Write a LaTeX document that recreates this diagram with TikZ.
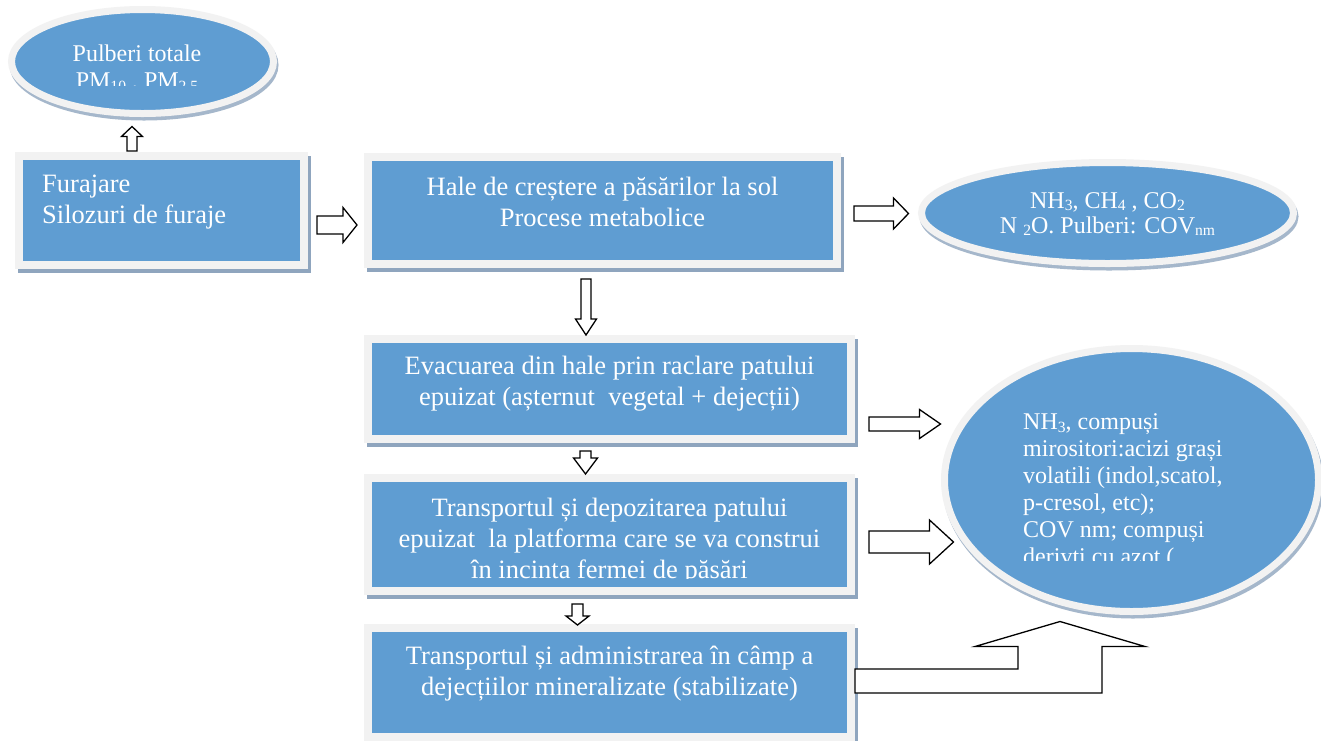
\documentclass[tikz,border=0pt]{standalone}
\usepackage{fontspec}
\usepackage{graphicx}
\setmainfont{Liberation Serif}
\usetikzlibrary{calc,shapes.geometric}
\definecolor{boxblue}{RGB}{95,157,210}
\definecolor{framec}{RGB}{242,242,242}
\definecolor{shadowc}{RGB}{143,165,190}
\newcommand\sbs[1]{\raisebox{-0.12em}{\scalebox{0.65}{#1}}}
\tikzset{
 x=1pt, y=1pt,
 boxnode/.style={rectangle, inner sep=0pt, fill=boxblue, draw=framec, line width=8pt,
   preaction={draw=shadowc, fill=shadowc, transform canvas={shift={(3pt,-4pt)}}}},
 ellnode/.style={ellipse, inner sep=0pt, fill=boxblue, draw=framec, line width=7pt,
   preaction={draw=shadowc!80, fill=shadowc!80, transform canvas={shift={(1.5pt,-3.5pt)}}}},
 boxtext/.style={text=white, inner sep=0pt, font=\fontsize{26.5}{31}\selectfont, align=center},
 elltext/.style={text=white, inner sep=0pt, font=\fontsize{24}{27}\selectfont, align=center},
 barrow/.style={draw=black, fill=white, line width=1.3pt, line join=miter},
}
% horizontal arrow to the right: start, end, shaft half, head half, head length
\newcommand\rarrow[5]{\draw[barrow] let \p1=(#1), \p2=(#2) in (\x1,\y1+#3) -- (\x2-#5,\y1+#3) -- (\x2-#5,\y1+#4) -- (\x2,\y1) -- (\x2-#5,\y1-#4) -- (\x2-#5,\y1-#3) -- (\x1,\y1-#3) -- cycle;}
% vertical arrow downwards
\newcommand\darrow[5]{\draw[barrow] let \p1=(#1), \p2=(#2) in (\x1-#3,\y1) -- (\x1-#3,\y2+#5) -- (\x1-#4,\y2+#5) -- (\x1,\y2) -- (\x1+#4,\y2+#5) -- (\x1+#3,\y2+#5) -- (\x1+#3,\y1) -- cycle;}
% vertical arrow upwards
\newcommand\uarrow[5]{\draw[barrow] let \p1=(#1), \p2=(#2) in (\x1-#3,\y1) -- (\x1-#3,\y2-#5) -- (\x1-#4,\y2-#5) -- (\x1,\y2) -- (\x1+#4,\y2-#5) -- (\x1+#3,\y2-#5) -- (\x1+#3,\y1) -- cycle;}
\begin{document}
\begin{tikzpicture}
\useasboundingbox[fill=white] (0,0) rectangle (1321,-740);
% shapes
\node[ellnode, minimum width=262pt, minimum height=104pt] (e0) at (142.5,-61.5) {};
\node[boxnode, minimum width=285pt, minimum height=109pt] (b1) at (161.5,-210.5) {};
\node[boxnode, minimum width=469pt, minimum height=107pt] (b2) at (602.5,-210.5) {};
\node[ellnode, minimum width=372pt, minimum height=101pt] (e1) at (1107.5,-213) {};
\node[boxnode, minimum width=483pt, minimum height=100pt] (b3) at (609.5,-389) {};
\node[ellnode, minimum width=374pt, minimum height=263pt] (e2) at (1131.5,-480) {};
\node[boxnode, minimum width=483pt, minimum height=113pt] (b4) at (609.5,-534.5) {};
\node[boxnode, minimum width=483pt, minimum height=109pt] (b5) at (609.5,-682.5) {};
% texts
\begin{scope}
\clip (0,0) rectangle (300,-85);
\node[elltext] (e0t) at ($(e0.center)+(-5.5,-7)$) {Pulberi totale\\PM\sbs{10} , PM\sbs{2.5}};
\end{scope}
\node[boxtext, align=left, anchor=west] (b1t) at ($(b1.west)+(27,8)$) {Furajare\\Silozuri de furaje};
\node[boxtext] (b2t) at ($(b2.center)+(0,8.5)$) {Hale de creștere a păsărilor la sol\\Procese metabolice};
\node[elltext, font=\fontsize{24}{25}\selectfont] (e1t) at ($(e1.center)+(0,-1)$) {NH\sbs{3}, CH\sbs{4} , CO\sbs{2}\\N \sbs{2}O. Pulberi: COV\sbs{nm}};
\node[boxtext] (b3t) at ($(b3.center)+(0,5)$) {Evacuarea din hale prin raclare patului\\epuizat (așternut~ vegetal + dejecții)};
\begin{scope}
\clip (900,-300) rectangle (1321,-560);
\node[elltext, align=left, anchor=west] (e2t) at ($(e2.center)+(-108.5,-12)$) {NH\sbs{3}, compuși\\mirositori:acizi grași\\volatili (indol,scatol,\\p-cresol, etc);\\COV nm; compuși\\derivti cu azot (};
\end{scope}
\begin{scope}
\clip (360,-470) rectangle (860,-578);
\node[boxtext] (b4t) at ($(b4.center)+(0,-7)$) {Transportul și depozitarea patului\\epuizat~ la platforma care se va construi\\în incinta fermei de păsări};
\end{scope}
\node[boxtext] (b5t) at ($(b5.center)+(0,8.5)$) {Transportul și administrarea în câmp a\\dejecțiilor mineralizate (stabilizate)};
% block arrows
\uarrow{$(b1.north)+(-29.5,1)$}{$(e0.south)+(-10.5,-9.5)$}{5pt}{10.5pt}{10pt}
\rarrow{$(b1.east)+(9,-14.5)$}{$(b2.west)+(-7,0)$}{9pt}{17.5pt}{14pt}
\rarrow{$(b2.east)+(13,-3)$}{$(e1.west)+(-9.5,0)$}{7.5pt}{15.5pt}{15pt}
\darrow{$(b2.south)+(-16.5,-11)$}{$(b3.north)$}{5pt}{10.5pt}{16pt}
\rarrow{$(b3.east)+(14,-35)$}{$(e2.west)+(-0.5,0)$}{7pt}{14.5pt}{21pt}
\darrow{$(b3.south)+(-24,-8)$}{$(b4.north)$}{5.5pt}{12pt}{16pt}
\rarrow{$(b4.east)+(14,-7.5)$}{$(e2.west)+(12.5,0)$}{11pt}{22pt}{24pt}
\darrow{$(b4.south)+(-32,-9)$}{$(b5.north)+(0,-1)$}{5.5pt}{11.5pt}{9pt}
\draw[barrow] let \p1=($(b5.east)+(0,1.5)$), \p2=($(e2.south)+(-71.5,-6.5)$) in
 (\x1,\y1+12) -- (\x2-42,\y1+12) -- (\x2-42,\y2-25) -- (\x2-85,\y2-25) -- (\x2,\y2)
 -- (\x2+85,\y2-25) -- (\x2+42,\y2-25) -- (\x2+42,\y1-12) -- (\x1,\y1-12) -- cycle;
\end{tikzpicture}
\end{document}
